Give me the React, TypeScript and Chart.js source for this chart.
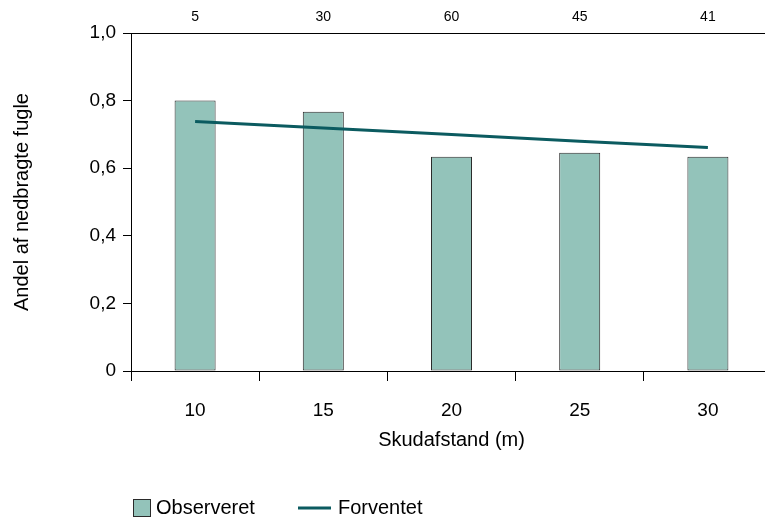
import React, { useEffect, useRef } from "react";
import { Chart, registerables } from "chart.js";

Chart.register(...registerables);

const categories = ["10", "15", "20", "25", "30"];
const sampleSizes = ["5", "30", "60", "45", "41"];
const observed = [0.8, 0.767, 0.634, 0.646, 0.634];
const expected = [0.738, 0.719, 0.7, 0.68, 0.661];

const BAR_FILL = "#93c3ba";
const BAR_BORDER = "#2a2a2a";
const LINE_COLOR = "#0b5b60";
const FONT = "'Liberation Sans', Arial, Helvetica, sans-serif";

const legendPlugin = {
  id: "customLegend",
  afterDraw(chart: any) {
    const ctx = chart.ctx;
    const y = 508;
    ctx.save();
    ctx.fillStyle = BAR_FILL;
    ctx.fillRect(133, 499, 18, 18);
    ctx.strokeStyle = BAR_BORDER;
    ctx.lineWidth = 1;
    ctx.strokeRect(133.5, 499.5, 17, 17);
    ctx.fillStyle = "#000";
    ctx.font = `20px ${FONT}`;
    ctx.textBaseline = "middle";
    ctx.textAlign = "left";
    ctx.fillText("Observeret", 156, y);
    ctx.strokeStyle = LINE_COLOR;
    ctx.lineWidth = 3;
    ctx.beginPath();
    ctx.moveTo(298, y);
    ctx.lineTo(331, y);
    ctx.stroke();
    ctx.fillText("Forventet", 338, y);
    ctx.restore();
  },
};

export default function App() {
  const ref = useRef<HTMLCanvasElement>(null);
  useEffect(() => {
    document.body.style.overflow = "hidden";
    Chart.defaults.font.family = FONT;
    Chart.defaults.color = "#000";
    const chart = new Chart(ref.current!, {
      type: "bar",
      data: {
        labels: categories,
        datasets: [
          {
            type: "line",
            label: "Forventet",
            data: expected,
            borderColor: LINE_COLOR,
            borderWidth: 3,
            pointRadius: 0,
            fill: false,
            order: 0,
          } as any,
          {
            type: "bar",
            label: "Observeret",
            data: observed,
            backgroundColor: BAR_FILL,
            borderColor: BAR_BORDER,
            borderWidth: 1,
            borderSkipped: false,
            barPercentage: 0.32,
            categoryPercentage: 1,
            order: 1,
          },
        ],
      },
      options: {
        responsive: false,
        animation: false,
        devicePixelRatio: 1,
        layout: { padding: { left: 0, top: 0, right: 8, bottom: 66 } },
        plugins: { legend: { display: false }, tooltip: { enabled: false } },
        scales: {
          x: {
            type: "category",
            position: "bottom",
            offset: true,
            grid: { offset: true, drawOnChartArea: false, drawTicks: true, tickLength: 10, color: "#000" },
            border: { display: true, color: "#000", width: 1 },
            ticks: { font: { size: 19 }, padding: 18, color: "#000" },
            title: { display: true, text: "Skudafstand (m)", font: { size: 20 }, padding: { top: 0, bottom: 0 }, color: "#000" },
            afterFit(scale: any) {
              scale.height = 81;
            },
          },
          x2: {
            type: "category",
            axis: "x",
            position: "top",
            labels: sampleSizes,
            offset: true,
            grid: { display: false, drawTicks: false },
            border: { display: true, color: "#000", width: 1 },
            ticks: { font: { size: 14 }, padding: 7, color: "#000" },
            afterFit(scale: any) {
              scale.height = 33;
            },
          },
          y: {
            min: 0,
            max: 1,
            grid: { drawOnChartArea: false, drawTicks: true, tickLength: 8, color: "#000" },
            border: { display: true, color: "#000", width: 1 },
            ticks: {
              stepSize: 0.2,
              font: { size: 19 },
              padding: 7,
              color: "#000",
              callback: (v: any) => (Number(v) === 0 ? "0" : Number(v).toFixed(1).replace(".", ",")),
            },
            title: { display: true, text: "Andel af nedbragte fugle", font: { size: 20 }, padding: { top: 10, bottom: 0 }, color: "#000" },
            afterFit(scale: any) {
              scale.width = 131;
            },
          },
        },
      } as any,
      plugins: [legendPlugin],
    });
    return () => chart.destroy();
  }, []);
  return (
    <div style={{ position: "fixed", left: 0, top: 0, width: 780, height: 518, overflow: "hidden", background: "#fff" }}>
      <canvas ref={ref} width={780} height={518} />
    </div>
  );
}
